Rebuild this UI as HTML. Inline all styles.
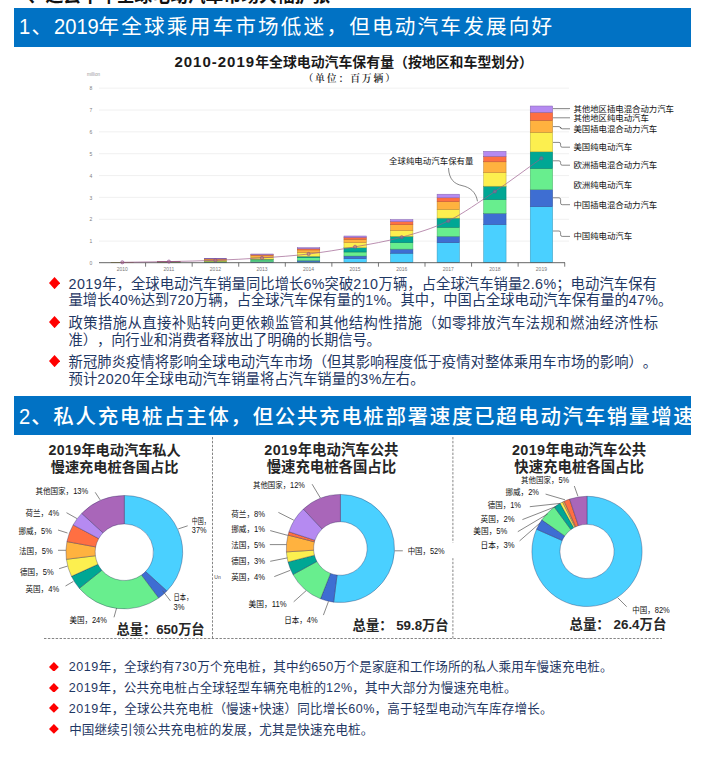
<!DOCTYPE html>
<html lang="zh-CN"><head><meta charset="utf-8"><title>全球电动汽车市场</title>
<style>
html,body{margin:0;padding:0;background:#fff;}
body{width:702px;height:758px;position:relative;overflow:hidden;font-family:"Liberation Sans","Noto Sans CJK SC",sans-serif;}
.abs{position:absolute;}
.hdr{position:absolute;left:14px;width:677px;background:#0172c4;color:#fff;white-space:nowrap;overflow:hidden;}
.hdr span.t{position:absolute;left:7px;white-space:nowrap;}
.ln{position:absolute;white-space:nowrap;color:#1f3864;text-spacing-trim:space-all;font-kerning:none;}
.b1{font-size:14.3px;line-height:17px;height:17px;}
.b2{font-size:12.55px;line-height:15px;height:15px;}
.dia{position:absolute;width:0;height:0;}
.ttl{position:absolute;white-space:nowrap;font-weight:700;color:#262626;text-align:center;}
.dg{display:inline-block;font-size:22.4px;letter-spacing:0;transform:scaleX(0.9);transform-origin:left center;line-height:1;}
</style></head><body>

<div class="abs" style="left:10px;top:-14.4px;font-size:17.8px;line-height:20px;font-weight:700;color:#111;white-space:nowrap;">一、过去十年全球电动汽车市场大幅扩张</div>
<div class="hdr" style="top:8px;height:38.6px;"><span class="t" style="left:5.4px;font-size:20.6px;letter-spacing:2.2px;line-height:38.6px;top:0.4px;"><span class="dg" style="margin-right:-0.4px">1</span>、<span class="dg" style="margin-right:-5.6px">2019</span>年全球乘用车市场低迷，但电动汽车发展向好</span></div>
<div class="hdr" style="top:396px;height:39.4px;"><span class="t" style="left:4.6px;font-size:20.5px;letter-spacing:1.64px;line-height:39.4px;top:1px;font-weight:500;"><span class="dg" style="margin-right:0.2px;font-weight:400">2</span>、私人充电桩占主体，但公共充电桩部署速度已超电动汽车销量增速</span></div>
<div class="ttl" style="left:174.4px;text-align:left;top:51.5px;font-size:13.9px;line-height:19px;color:#1a1a1a;"><span style="font-size:15px;letter-spacing:1px">2010-2019</span>年全球电动汽车保有量（按地区和车型划分）</div>
<div class="abs" style="left:250.2px;width:200px;top:71.9px;text-align:center;font-family:'Liberation Serif','Noto Serif CJK SC',serif;font-weight:600;font-size:9.8px;line-height:13px;letter-spacing:1.9px;color:#222;white-space:nowrap;">（单位：百万辆）</div>
<svg class="abs" style="left:0;top:0" width="702" height="758" viewBox="0 0 702 758">
<line x1="99" x2="569" y1="241.10" y2="241.10" stroke="#ececec" stroke-width="0.8"/>
<line x1="99" x2="569" y1="219.25" y2="219.25" stroke="#ececec" stroke-width="0.8"/>
<line x1="99" x2="569" y1="197.40" y2="197.40" stroke="#ececec" stroke-width="0.8"/>
<line x1="99" x2="569" y1="175.55" y2="175.55" stroke="#ececec" stroke-width="0.8"/>
<line x1="99" x2="569" y1="153.70" y2="153.70" stroke="#ececec" stroke-width="0.8"/>
<line x1="99" x2="569" y1="131.85" y2="131.85" stroke="#ececec" stroke-width="0.8"/>
<line x1="99" x2="569" y1="110.00" y2="110.00" stroke="#ececec" stroke-width="0.8"/>
<line x1="99" x2="569" y1="88.15" y2="88.15" stroke="#ececec" stroke-width="0.8"/>
<rect x="530.23" y="206.70" width="22.4" height="56.00" fill="#4ad0ff" stroke="#3595b7" stroke-width="0.5"/>
<rect x="530.23" y="189.70" width="22.4" height="17.00" fill="#3e6ed2" stroke="#2c4f97" stroke-width="0.5"/>
<rect x="530.23" y="168.50" width="22.4" height="21.20" fill="#68ee8e" stroke="#4aab66" stroke-width="0.5"/>
<rect x="530.23" y="151.80" width="22.4" height="16.70" fill="#00a794" stroke="#00786a" stroke-width="0.5"/>
<rect x="530.23" y="132.30" width="22.4" height="19.50" fill="#fcef4f" stroke="#b5ac38" stroke-width="0.5"/>
<rect x="530.23" y="120.30" width="22.4" height="12.00" fill="#ffb23f" stroke="#b7802d" stroke-width="0.5"/>
<rect x="530.23" y="112.40" width="22.4" height="7.90" fill="#ff6f42" stroke="#b74f2f" stroke-width="0.5"/>
<rect x="530.23" y="106.00" width="22.4" height="6.40" fill="#b58af1" stroke="#8263ad" stroke-width="0.5"/>
<rect x="483.66" y="224.60" width="22.4" height="38.10" fill="#4ad0ff" stroke="#3595b7" stroke-width="0.5"/>
<rect x="483.66" y="213.30" width="22.4" height="11.30" fill="#3e6ed2" stroke="#2c4f97" stroke-width="0.5"/>
<rect x="483.66" y="199.60" width="22.4" height="13.70" fill="#68ee8e" stroke="#4aab66" stroke-width="0.5"/>
<rect x="483.66" y="186.20" width="22.4" height="13.40" fill="#00a794" stroke="#00786a" stroke-width="0.5"/>
<rect x="483.66" y="172.70" width="22.4" height="13.50" fill="#fcef4f" stroke="#b5ac38" stroke-width="0.5"/>
<rect x="483.66" y="161.80" width="22.4" height="10.90" fill="#ffb23f" stroke="#b7802d" stroke-width="0.5"/>
<rect x="483.66" y="156.40" width="22.4" height="5.40" fill="#ff6f42" stroke="#b74f2f" stroke-width="0.5"/>
<rect x="483.66" y="151.30" width="22.4" height="5.10" fill="#b58af1" stroke="#8263ad" stroke-width="0.5"/>
<rect x="437.09" y="242.70" width="22.4" height="20.00" fill="#4ad0ff" stroke="#3595b7" stroke-width="0.5"/>
<rect x="437.09" y="236.30" width="22.4" height="6.40" fill="#3e6ed2" stroke="#2c4f97" stroke-width="0.5"/>
<rect x="437.09" y="227.30" width="22.4" height="9.00" fill="#68ee8e" stroke="#4aab66" stroke-width="0.5"/>
<rect x="437.09" y="218.10" width="22.4" height="9.20" fill="#00a794" stroke="#00786a" stroke-width="0.5"/>
<rect x="437.09" y="209.40" width="22.4" height="8.70" fill="#fcef4f" stroke="#b5ac38" stroke-width="0.5"/>
<rect x="437.09" y="201.70" width="22.4" height="7.70" fill="#ffb23f" stroke="#b7802d" stroke-width="0.5"/>
<rect x="437.09" y="197.80" width="22.4" height="3.90" fill="#ff6f42" stroke="#b74f2f" stroke-width="0.5"/>
<rect x="437.09" y="194.20" width="22.4" height="3.60" fill="#b58af1" stroke="#8263ad" stroke-width="0.5"/>
<rect x="390.52" y="253.20" width="22.4" height="9.50" fill="#4ad0ff" stroke="#3595b7" stroke-width="0.5"/>
<rect x="390.52" y="249.10" width="22.4" height="4.10" fill="#3e6ed2" stroke="#2c4f97" stroke-width="0.5"/>
<rect x="390.52" y="242.70" width="22.4" height="6.40" fill="#68ee8e" stroke="#4aab66" stroke-width="0.5"/>
<rect x="390.52" y="236.30" width="22.4" height="6.40" fill="#00a794" stroke="#00786a" stroke-width="0.5"/>
<rect x="390.52" y="230.50" width="22.4" height="5.80" fill="#fcef4f" stroke="#b5ac38" stroke-width="0.5"/>
<rect x="390.52" y="224.70" width="22.4" height="5.80" fill="#ffb23f" stroke="#b7802d" stroke-width="0.5"/>
<rect x="390.52" y="221.50" width="22.4" height="3.20" fill="#ff6f42" stroke="#b74f2f" stroke-width="0.5"/>
<rect x="390.52" y="219.60" width="22.4" height="1.90" fill="#b58af1" stroke="#8263ad" stroke-width="0.5"/>
<rect x="343.95" y="258.70" width="22.4" height="4.00" fill="#4ad0ff" stroke="#3595b7" stroke-width="0.5"/>
<rect x="343.95" y="256.00" width="22.4" height="2.70" fill="#3e6ed2" stroke="#2c4f97" stroke-width="0.5"/>
<rect x="343.95" y="252.00" width="22.4" height="4.00" fill="#68ee8e" stroke="#4aab66" stroke-width="0.5"/>
<rect x="343.95" y="247.70" width="22.4" height="4.30" fill="#00a794" stroke="#00786a" stroke-width="0.5"/>
<rect x="343.95" y="242.70" width="22.4" height="5.00" fill="#fcef4f" stroke="#b5ac38" stroke-width="0.5"/>
<rect x="343.95" y="239.20" width="22.4" height="3.50" fill="#ffb23f" stroke="#b7802d" stroke-width="0.5"/>
<rect x="343.95" y="237.30" width="22.4" height="1.90" fill="#ff6f42" stroke="#b74f2f" stroke-width="0.5"/>
<rect x="343.95" y="236.00" width="22.4" height="1.30" fill="#b58af1" stroke="#8263ad" stroke-width="0.5"/>
<rect x="297.38" y="261.50" width="22.4" height="1.20" fill="#4ad0ff" stroke="#3595b7" stroke-width="0.5"/>
<rect x="297.38" y="260.50" width="22.4" height="1.00" fill="#3e6ed2" stroke="#2c4f97" stroke-width="0.5"/>
<rect x="297.38" y="257.70" width="22.4" height="2.80" fill="#68ee8e" stroke="#4aab66" stroke-width="0.5"/>
<rect x="297.38" y="256.30" width="22.4" height="1.40" fill="#00a794" stroke="#00786a" stroke-width="0.5"/>
<rect x="297.38" y="252.70" width="22.4" height="3.60" fill="#fcef4f" stroke="#b5ac38" stroke-width="0.5"/>
<rect x="297.38" y="249.90" width="22.4" height="2.80" fill="#ffb23f" stroke="#b7802d" stroke-width="0.5"/>
<rect x="297.38" y="248.70" width="22.4" height="1.20" fill="#ff6f42" stroke="#b74f2f" stroke-width="0.5"/>
<rect x="297.38" y="247.70" width="22.4" height="1.00" fill="#b58af1" stroke="#8263ad" stroke-width="0.5"/>
<rect x="250.81" y="262.00" width="22.4" height="0.70" fill="#4ad0ff" stroke="#3595b7" stroke-width="0.5"/>
<rect x="250.81" y="261.80" width="22.4" height="0.20" fill="#3e6ed2" stroke="#2c4f97" stroke-width="0.5"/>
<rect x="250.81" y="260.00" width="22.4" height="1.80" fill="#68ee8e" stroke="#4aab66" stroke-width="0.5"/>
<rect x="250.81" y="259.20" width="22.4" height="0.80" fill="#00a794" stroke="#00786a" stroke-width="0.5"/>
<rect x="250.81" y="257.20" width="22.4" height="2.00" fill="#fcef4f" stroke="#b5ac38" stroke-width="0.5"/>
<rect x="250.81" y="255.20" width="22.4" height="2.00" fill="#ffb23f" stroke="#b7802d" stroke-width="0.5"/>
<rect x="250.81" y="254.60" width="22.4" height="0.60" fill="#ff6f42" stroke="#b74f2f" stroke-width="0.5"/>
<rect x="250.81" y="254.00" width="22.4" height="0.60" fill="#b58af1" stroke="#8263ad" stroke-width="0.5"/>
<rect x="204.24" y="262.50" width="22.4" height="0.20" fill="#4ad0ff" stroke="#3595b7" stroke-width="0.5"/>
<rect x="204.24" y="262.40" width="22.4" height="0.10" fill="#3e6ed2" stroke="#2c4f97" stroke-width="0.5"/>
<rect x="204.24" y="261.80" width="22.4" height="0.60" fill="#68ee8e" stroke="#4aab66" stroke-width="0.5"/>
<rect x="204.24" y="261.50" width="22.4" height="0.30" fill="#00a794" stroke="#00786a" stroke-width="0.5"/>
<rect x="204.24" y="260.30" width="22.4" height="1.20" fill="#fcef4f" stroke="#b5ac38" stroke-width="0.5"/>
<rect x="204.24" y="259.10" width="22.4" height="1.20" fill="#ffb23f" stroke="#b7802d" stroke-width="0.5"/>
<rect x="204.24" y="258.80" width="22.4" height="0.30" fill="#ff6f42" stroke="#b74f2f" stroke-width="0.5"/>
<rect x="204.24" y="258.60" width="22.4" height="0.20" fill="#b58af1" stroke="#8263ad" stroke-width="0.5"/>
<rect x="157.67" y="262.60" width="22.4" height="0.10" fill="#4ad0ff" stroke="#3595b7" stroke-width="0.5"/>
<rect x="157.67" y="262.30" width="22.4" height="0.30" fill="#68ee8e" stroke="#4aab66" stroke-width="0.5"/>
<rect x="157.67" y="262.20" width="22.4" height="0.10" fill="#00a794" stroke="#00786a" stroke-width="0.5"/>
<rect x="157.67" y="261.80" width="22.4" height="0.40" fill="#fcef4f" stroke="#b5ac38" stroke-width="0.5"/>
<rect x="157.67" y="261.60" width="22.4" height="0.20" fill="#ffb23f" stroke="#b7802d" stroke-width="0.5"/>
<rect x="157.67" y="261.50" width="22.4" height="0.10" fill="#ff6f42" stroke="#b74f2f" stroke-width="0.5"/>
<rect x="157.67" y="261.40" width="22.4" height="0.10" fill="#b58af1" stroke="#8263ad" stroke-width="0.5"/>
<rect x="111.10" y="262.60" width="22.4" height="0.10" fill="#68ee8e" stroke="#4aab66" stroke-width="0.5"/>
<rect x="111.10" y="262.50" width="22.4" height="0.10" fill="#fcef4f" stroke="#b5ac38" stroke-width="0.5"/>
<rect x="111.10" y="262.40" width="22.4" height="0.10" fill="#ffb23f" stroke="#b7802d" stroke-width="0.5"/>
<line x1="99" x2="565" y1="262.7" y2="262.7" stroke="#555" stroke-width="0.9"/>
<line x1="145.59" x2="145.59" y1="262.7" y2="266.7" stroke="#555" stroke-width="0.8"/>
<line x1="192.16" x2="192.16" y1="262.7" y2="266.7" stroke="#555" stroke-width="0.8"/>
<line x1="238.72" x2="238.72" y1="262.7" y2="266.7" stroke="#555" stroke-width="0.8"/>
<line x1="285.30" x2="285.30" y1="262.7" y2="266.7" stroke="#555" stroke-width="0.8"/>
<line x1="331.87" x2="331.87" y1="262.7" y2="266.7" stroke="#555" stroke-width="0.8"/>
<line x1="378.44" x2="378.44" y1="262.7" y2="266.7" stroke="#555" stroke-width="0.8"/>
<line x1="425.00" x2="425.00" y1="262.7" y2="266.7" stroke="#555" stroke-width="0.8"/>
<line x1="471.57" x2="471.57" y1="262.7" y2="266.7" stroke="#555" stroke-width="0.8"/>
<line x1="518.14" x2="518.14" y1="262.7" y2="266.7" stroke="#555" stroke-width="0.8"/>
<line x1="564.72" x2="564.72" y1="262.7" y2="266.7" stroke="#555" stroke-width="0.8"/>
<path d="M122.3 262.30 C137.8 262.07 153.3 261.93 168.9 261.60 C184.4 261.27 199.9 260.92 215.4 260.30 C231.0 259.68 246.5 258.95 262.0 257.90 C277.5 256.85 293.1 255.85 308.6 254.00 C324.1 252.15 339.6 249.60 355.1 246.80 C370.7 244.00 386.2 241.52 401.7 237.20 C417.2 232.88 432.8 228.52 448.3 220.90 C463.8 213.28 479.3 201.93 494.9 191.50 C510.4 181.07 525.9 169.37 541.4 158.30" fill="none" stroke="#9a5a8c" stroke-opacity="0.85" stroke-width="0.8"/>
<circle cx="122.3" cy="262.3" r="1.6" fill="#b07088" fill-opacity="0.45" stroke="#8a4590" stroke-width="0.6"/>
<circle cx="168.9" cy="261.6" r="1.6" fill="#b07088" fill-opacity="0.45" stroke="#8a4590" stroke-width="0.6"/>
<circle cx="215.4" cy="260.3" r="1.6" fill="#b07088" fill-opacity="0.45" stroke="#8a4590" stroke-width="0.6"/>
<circle cx="262.0" cy="257.9" r="1.6" fill="#b07088" fill-opacity="0.45" stroke="#8a4590" stroke-width="0.6"/>
<circle cx="308.6" cy="254.0" r="1.6" fill="#b07088" fill-opacity="0.45" stroke="#8a4590" stroke-width="0.6"/>
<circle cx="355.1" cy="246.8" r="1.6" fill="#b07088" fill-opacity="0.45" stroke="#8a4590" stroke-width="0.6"/>
<circle cx="401.7" cy="237.2" r="1.6" fill="#b07088" fill-opacity="0.45" stroke="#8a4590" stroke-width="0.6"/>
<circle cx="448.3" cy="220.9" r="1.6" fill="#b07088" fill-opacity="0.45" stroke="#8a4590" stroke-width="0.6"/>
<circle cx="494.9" cy="191.5" r="1.6" fill="#b07088" fill-opacity="0.45" stroke="#8a4590" stroke-width="0.6"/>
<circle cx="541.4" cy="158.3" r="1.6" fill="#b07088" fill-opacity="0.45" stroke="#8a4590" stroke-width="0.6"/>
<text x="91" y="265.1" font-size="5" fill="#808080" text-anchor="middle" font-family='"Liberation Sans","Noto Sans CJK SC",sans-serif'>0</text>
<text x="91" y="243.3" font-size="5" fill="#808080" text-anchor="middle" font-family='"Liberation Sans","Noto Sans CJK SC",sans-serif'>1</text>
<text x="91" y="221.4" font-size="5" fill="#808080" text-anchor="middle" font-family='"Liberation Sans","Noto Sans CJK SC",sans-serif'>2</text>
<text x="91" y="199.6" font-size="5" fill="#808080" text-anchor="middle" font-family='"Liberation Sans","Noto Sans CJK SC",sans-serif'>3</text>
<text x="91" y="177.7" font-size="5" fill="#808080" text-anchor="middle" font-family='"Liberation Sans","Noto Sans CJK SC",sans-serif'>4</text>
<text x="91" y="155.9" font-size="5" fill="#808080" text-anchor="middle" font-family='"Liberation Sans","Noto Sans CJK SC",sans-serif'>5</text>
<text x="91" y="134.0" font-size="5" fill="#808080" text-anchor="middle" font-family='"Liberation Sans","Noto Sans CJK SC",sans-serif'>6</text>
<text x="91" y="112.2" font-size="5" fill="#808080" text-anchor="middle" font-family='"Liberation Sans","Noto Sans CJK SC",sans-serif'>7</text>
<text x="91" y="90.3" font-size="5" fill="#808080" text-anchor="middle" font-family='"Liberation Sans","Noto Sans CJK SC",sans-serif'>8</text>
<text x="93.5" y="76" font-size="4.6" fill="#999" text-anchor="middle" font-family='"Liberation Sans","Noto Sans CJK SC",sans-serif'>million</text>
<text x="122.3" y="270.8" font-size="5" fill="#777" text-anchor="middle" font-family='"Liberation Sans","Noto Sans CJK SC",sans-serif'>2010</text>
<text x="168.9" y="270.8" font-size="5" fill="#777" text-anchor="middle" font-family='"Liberation Sans","Noto Sans CJK SC",sans-serif'>2011</text>
<text x="215.4" y="270.8" font-size="5" fill="#777" text-anchor="middle" font-family='"Liberation Sans","Noto Sans CJK SC",sans-serif'>2012</text>
<text x="262.0" y="270.8" font-size="5" fill="#777" text-anchor="middle" font-family='"Liberation Sans","Noto Sans CJK SC",sans-serif'>2013</text>
<text x="308.6" y="270.8" font-size="5" fill="#777" text-anchor="middle" font-family='"Liberation Sans","Noto Sans CJK SC",sans-serif'>2014</text>
<text x="355.1" y="270.8" font-size="5" fill="#777" text-anchor="middle" font-family='"Liberation Sans","Noto Sans CJK SC",sans-serif'>2015</text>
<text x="401.7" y="270.8" font-size="5" fill="#777" text-anchor="middle" font-family='"Liberation Sans","Noto Sans CJK SC",sans-serif'>2016</text>
<text x="448.3" y="270.8" font-size="5" fill="#777" text-anchor="middle" font-family='"Liberation Sans","Noto Sans CJK SC",sans-serif'>2017</text>
<text x="494.9" y="270.8" font-size="5" fill="#777" text-anchor="middle" font-family='"Liberation Sans","Noto Sans CJK SC",sans-serif'>2018</text>
<text x="541.4" y="270.8" font-size="5" fill="#777" text-anchor="middle" font-family='"Liberation Sans","Noto Sans CJK SC",sans-serif'>2019</text>
<path d="M553 108.6 H570" fill="none" stroke="#555" stroke-width="0.7"/>
<text x="573.5" y="111.6" font-size="8.4" fill="#111" font-family='"Liberation Sans","Noto Sans CJK SC",sans-serif'>其他地区插电混合动力汽车</text>
<path d="M553 117.8 H570" fill="none" stroke="#555" stroke-width="0.7"/>
<text x="573.5" y="120.8" font-size="8.4" fill="#111" font-family='"Liberation Sans","Noto Sans CJK SC",sans-serif'>其他地区纯电动汽车</text>
<path d="M553 126.6 H559 Q560.6 126.6 560.6 128.2 V127.20000000000002 Q560.6 128.8 562.2 128.8 H570" fill="none" stroke="#555" stroke-width="0.7"/>
<text x="573.5" y="131.8" font-size="8.4" fill="#111" font-family='"Liberation Sans","Noto Sans CJK SC",sans-serif'>美国插电混合动力汽车</text>
<path d="M553 142.4 H559 Q560.6 142.4 560.6 144.0 V145.6 Q560.6 147.2 562.2 147.2 H570" fill="none" stroke="#555" stroke-width="0.7"/>
<text x="573.5" y="150.2" font-size="8.4" fill="#111" font-family='"Liberation Sans","Noto Sans CJK SC",sans-serif'>美国纯电动汽车</text>
<path d="M553 160.8 H559 Q560.6 160.8 560.6 162.4 V163.6 Q560.6 165.2 562.2 165.2 H570" fill="none" stroke="#555" stroke-width="0.7"/>
<text x="573.5" y="168.2" font-size="8.4" fill="#111" font-family='"Liberation Sans","Noto Sans CJK SC",sans-serif'>欧洲插电混合动力汽车</text>
<text x="573.5" y="188.1" font-size="8.4" fill="#111" font-family='"Liberation Sans","Noto Sans CJK SC",sans-serif'>欧洲纯电动汽车</text>
<path d="M553 197.8 H559 Q560.6 197.8 560.6 199.4 V203.1 Q560.6 204.7 562.2 204.7 H570" fill="none" stroke="#555" stroke-width="0.7"/>
<text x="573.5" y="207.7" font-size="8.4" fill="#111" font-family='"Liberation Sans","Noto Sans CJK SC",sans-serif'>中国插电混合动力汽车</text>
<path d="M553 231.0 H559 Q560.6 231.0 560.6 232.6 V234.8 Q560.6 236.4 562.2 236.4 H570" fill="none" stroke="#555" stroke-width="0.7"/>
<text x="573.5" y="239.4" font-size="8.4" fill="#111" font-family='"Liberation Sans","Noto Sans CJK SC",sans-serif'>中国纯电动汽车</text>
<text x="389" y="164.1" font-size="8.4" fill="#111" font-family='"Liberation Sans","Noto Sans CJK SC",sans-serif' textLength="84.4" lengthAdjust="spacing">全球纯电动汽车保有量</text>
<path d="M448.5 168 C449 179.5 454.5 184 462 185.6 C470 187.3 476 192 477.5 201.3" fill="none" stroke="#555" stroke-width="0.7"/>
<g transform="translate(124.3 552.2) scale(1.03 1)">
<path d="M0.00 -56.70 A56.7 56.7 0 0 1 41.33 38.81 L20.63 19.37 A28.3 28.3 0 0 0 0.00 -28.30 Z" fill="#4ad0ff" stroke="rgba(30,30,80,0.6)" stroke-width="0.55"/>
<path d="M41.33 38.81 A56.7 56.7 0 0 1 33.33 45.87 L16.63 22.90 A28.3 28.3 0 0 0 20.63 19.37 Z" fill="#3e6ed2" stroke="rgba(30,30,80,0.6)" stroke-width="0.55"/>
<path d="M33.33 45.87 A56.7 56.7 0 0 1 -43.69 36.14 L-21.81 18.04 A28.3 28.3 0 0 0 16.63 22.90 Z" fill="#68ee8e" stroke="rgba(30,30,80,0.6)" stroke-width="0.55"/>
<path d="M-43.69 36.14 A56.7 56.7 0 0 1 -51.30 24.14 L-25.61 12.05 A28.3 28.3 0 0 0 -21.81 18.04 Z" fill="#00a794" stroke="rgba(30,30,80,0.6)" stroke-width="0.55"/>
<path d="M-51.30 24.14 A56.7 56.7 0 0 1 -56.25 7.11 L-28.08 3.55 A28.3 28.3 0 0 0 -25.61 12.05 Z" fill="#fcef4f" stroke="rgba(30,30,80,0.6)" stroke-width="0.55"/>
<path d="M-56.25 7.11 A56.7 56.7 0 0 1 -55.70 -10.62 L-27.80 -5.30 A28.3 28.3 0 0 0 -28.08 3.55 Z" fill="#ffb23f" stroke="rgba(30,30,80,0.6)" stroke-width="0.55"/>
<path d="M-55.70 -10.62 A56.7 56.7 0 0 1 -49.69 -27.32 L-24.80 -13.63 A28.3 28.3 0 0 0 -27.80 -5.30 Z" fill="#ff6f42" stroke="rgba(30,30,80,0.6)" stroke-width="0.55"/>
<path d="M-49.69 -27.32 A56.7 56.7 0 0 1 -41.33 -38.81 L-20.63 -19.37 A28.3 28.3 0 0 0 -24.80 -13.63 Z" fill="#b58af1" stroke="rgba(30,30,80,0.6)" stroke-width="0.55"/>
<path d="M-41.33 -38.81 A56.7 56.7 0 0 1 0.00 -56.70 L0.00 -28.30 A28.3 28.3 0 0 0 -20.63 -19.37 Z" fill="#a966b9" stroke="rgba(30,30,80,0.6)" stroke-width="0.55"/>
</g>
<g transform="translate(340.4 548.5) scale(1.0 1)">
<path d="M0.00 -54.10 A54.1 54.1 0 1 1 -6.78 53.67 L-3.36 26.59 A26.8 26.8 0 1 0 0.00 -26.80 Z" fill="#4ad0ff" stroke="rgba(30,30,80,0.6)" stroke-width="0.55"/>
<path d="M-6.78 53.67 A54.1 54.1 0 0 1 -19.92 50.30 L-9.87 24.92 A26.8 26.8 0 0 0 -3.36 26.59 Z" fill="#3e6ed2" stroke="rgba(30,30,80,0.6)" stroke-width="0.55"/>
<path d="M-19.92 50.30 A54.1 54.1 0 0 1 -47.41 26.06 L-23.49 12.91 A26.8 26.8 0 0 0 -9.87 24.92 Z" fill="#68ee8e" stroke="rgba(30,30,80,0.6)" stroke-width="0.55"/>
<path d="M-47.41 26.06 A54.1 54.1 0 0 1 -52.40 13.45 L-25.96 6.66 A26.8 26.8 0 0 0 -23.49 12.91 Z" fill="#00a794" stroke="rgba(30,30,80,0.6)" stroke-width="0.55"/>
<path d="M-52.40 13.45 A54.1 54.1 0 0 1 -53.99 3.40 L-26.75 1.68 A26.8 26.8 0 0 0 -25.96 6.66 Z" fill="#fcef4f" stroke="rgba(30,30,80,0.6)" stroke-width="0.55"/>
<path d="M-53.99 3.40 A54.1 54.1 0 0 1 -52.40 -13.45 L-25.96 -6.66 A26.8 26.8 0 0 0 -26.75 1.68 Z" fill="#ffb23f" stroke="rgba(30,30,80,0.6)" stroke-width="0.55"/>
<path d="M-52.40 -13.45 A54.1 54.1 0 0 1 -51.45 -16.72 L-25.49 -8.28 A26.8 26.8 0 0 0 -25.96 -6.66 Z" fill="#ff6f42" stroke="rgba(30,30,80,0.6)" stroke-width="0.55"/>
<path d="M-51.45 -16.72 A54.1 54.1 0 0 1 -37.03 -39.44 L-18.35 -19.54 A26.8 26.8 0 0 0 -25.49 -8.28 Z" fill="#b58af1" stroke="rgba(30,30,80,0.6)" stroke-width="0.55"/>
<path d="M-37.03 -39.44 A54.1 54.1 0 0 1 -0.00 -54.10 L-0.00 -26.80 A26.8 26.8 0 0 0 -18.35 -19.54 Z" fill="#a966b9" stroke="rgba(30,30,80,0.6)" stroke-width="0.55"/>
</g>
<g transform="translate(587 551.4) scale(1.0 1)">
<path d="M0.00 -55.10 A55.1 55.1 0 1 1 -50.43 -22.20 L-24.80 -10.92 A27.1 27.1 0 1 0 0.00 -27.10 Z" fill="#4ad0ff" stroke="rgba(30,30,80,0.6)" stroke-width="0.55"/>
<path d="M-50.43 -22.20 A55.1 55.1 0 0 1 -45.18 -31.54 L-22.22 -15.51 A27.1 27.1 0 0 0 -24.80 -10.92 Z" fill="#3e6ed2" stroke="rgba(30,30,80,0.6)" stroke-width="0.55"/>
<path d="M-45.18 -31.54 A55.1 55.1 0 0 1 -32.67 -44.37 L-16.07 -21.82 A27.1 27.1 0 0 0 -22.22 -15.51 Z" fill="#68ee8e" stroke="rgba(30,30,80,0.6)" stroke-width="0.55"/>
<path d="M-32.67 -44.37 A55.1 55.1 0 0 1 -26.85 -48.12 L-13.20 -23.67 A27.1 27.1 0 0 0 -16.07 -21.82 Z" fill="#00a794" stroke="rgba(30,30,80,0.6)" stroke-width="0.55"/>
<path d="M-26.85 -48.12 A55.1 55.1 0 0 1 -24.40 -49.40 L-12.00 -24.30 A27.1 27.1 0 0 0 -13.20 -23.67 Z" fill="#fcef4f" stroke="rgba(30,30,80,0.6)" stroke-width="0.55"/>
<path d="M-24.40 -49.40 A55.1 55.1 0 0 1 -22.83 -50.15 L-11.23 -24.66 A27.1 27.1 0 0 0 -12.00 -24.30 Z" fill="#ffb23f" stroke="rgba(30,30,80,0.6)" stroke-width="0.55"/>
<path d="M-22.83 -50.15 A55.1 55.1 0 0 1 -17.36 -52.30 L-8.54 -25.72 A27.1 27.1 0 0 0 -11.23 -24.66 Z" fill="#ff6f42" stroke="rgba(30,30,80,0.6)" stroke-width="0.55"/>
<path d="M-17.36 -52.30 A55.1 55.1 0 0 1 -0.00 -55.10 L-0.00 -27.10 A27.1 27.1 0 0 0 -8.54 -25.72 Z" fill="#a966b9" stroke="rgba(30,30,80,0.6)" stroke-width="0.55"/>
</g>
<line x1="212.5" x2="212.5" y1="437" y2="639.5" stroke="#858585" stroke-width="1" stroke-dasharray="2.4 1.5"/>
<line x1="452.9" x2="452.9" y1="437" y2="639.5" stroke="#858585" stroke-width="1" stroke-dasharray="2.4 1.5"/>
<rect x="450.5" y="542.6" width="5" height="15.6" fill="#fff"/>
<line x1="44" x2="662" y1="638.5" y2="638.5" stroke="#858585" stroke-width="1" stroke-dasharray="2.4 1.5"/>
<text x="35.4" y="493.9" font-size="8.4" fill="#111" textLength="52.9" lengthAdjust="spacingAndGlyphs" font-family='"Liberation Sans","Noto Sans CJK SC",sans-serif'>其他国家，13%</text>
<line x1="95.2" y1="492.3" x2="100.1" y2="499.8" stroke="#555" stroke-width="0.7"/>
<text x="25.5" y="515.7" font-size="8.4" fill="#111" textLength="33.6" lengthAdjust="spacingAndGlyphs" font-family='"Liberation Sans","Noto Sans CJK SC",sans-serif'>荷兰，4%</text>
<line x1="66.5" y1="512.7" x2="77" y2="518.6" stroke="#555" stroke-width="0.7"/>
<text x="18.4" y="533.5" font-size="8.4" fill="#111" textLength="33.6" lengthAdjust="spacingAndGlyphs" font-family='"Liberation Sans","Noto Sans CJK SC",sans-serif'>挪威，5%</text>
<line x1="58" y1="530" x2="67.5" y2="533" stroke="#555" stroke-width="0.7"/>
<text x="19" y="553.9" font-size="8.4" fill="#111" textLength="33.6" lengthAdjust="spacingAndGlyphs" font-family='"Liberation Sans","Noto Sans CJK SC",sans-serif'>法国，5%</text>
<line x1="58" y1="550.3" x2="65.9" y2="550.3" stroke="#555" stroke-width="0.7"/>
<text x="20" y="574.7" font-size="8.4" fill="#111" textLength="33.6" lengthAdjust="spacingAndGlyphs" font-family='"Liberation Sans","Noto Sans CJK SC",sans-serif'>德国，5%</text>
<line x1="59.1" y1="568.7" x2="67.5" y2="566.1" stroke="#555" stroke-width="0.7"/>
<text x="25.5" y="591.9" font-size="8.4" fill="#111" textLength="33.6" lengthAdjust="spacingAndGlyphs" font-family='"Liberation Sans","Noto Sans CJK SC",sans-serif'>英国，4%</text>
<line x1="65.5" y1="586" x2="73.4" y2="581.4" stroke="#555" stroke-width="0.7"/>
<text x="69.4" y="623.2" font-size="8.4" fill="#111" textLength="37.6" lengthAdjust="spacingAndGlyphs" font-family='"Liberation Sans","Noto Sans CJK SC",sans-serif'>美国，24%</text>
<line x1="114" y1="617.3" x2="116.6" y2="608" stroke="#555" stroke-width="0.7"/>
<text x="191.8" y="524.2" font-size="8.4" fill="#111" textLength="17.9" lengthAdjust="spacingAndGlyphs" font-family='"Liberation Sans","Noto Sans CJK SC",sans-serif'>中国，</text>
<text x="191.8" y="532.6" font-size="8.4" fill="#111" textLength="14.7" lengthAdjust="spacingAndGlyphs" font-family='"Liberation Sans","Noto Sans CJK SC",sans-serif'>37%</text>
<line x1="178.3" y1="528.9" x2="187.7" y2="525.8" stroke="#555" stroke-width="0.7"/>
<text x="173.6" y="600.4" font-size="8.4" fill="#111" textLength="18.8" lengthAdjust="spacingAndGlyphs" font-family='"Liberation Sans","Noto Sans CJK SC",sans-serif'>日本，</text>
<text x="173.6" y="609.6" font-size="8.4" fill="#111" textLength="11.0" lengthAdjust="spacingAndGlyphs" font-family='"Liberation Sans","Noto Sans CJK SC",sans-serif'>3%</text>
<line x1="162.6" y1="590.7" x2="170.5" y2="601" stroke="#555" stroke-width="0.7"/>
<text x="253" y="487.5" font-size="8.4" fill="#111" textLength="51.9" lengthAdjust="spacingAndGlyphs" font-family='"Liberation Sans","Noto Sans CJK SC",sans-serif'>其他国家，12%</text>
<line x1="312.1" y1="484.2" x2="320.4" y2="498.0" stroke="#555" stroke-width="0.7"/>
<text x="231.2" y="516.6" font-size="8.4" fill="#111" textLength="33.8" lengthAdjust="spacingAndGlyphs" font-family='"Liberation Sans","Noto Sans CJK SC",sans-serif'>荷兰，8%</text>
<line x1="278.4" y1="512.4" x2="293.8" y2="520.2" stroke="#555" stroke-width="0.7"/>
<text x="231.2" y="532.2" font-size="8.4" fill="#111" textLength="33.8" lengthAdjust="spacingAndGlyphs" font-family='"Liberation Sans","Noto Sans CJK SC",sans-serif'>挪威，1%</text>
<line x1="270.2" y1="530.6" x2="287.8" y2="535.4" stroke="#555" stroke-width="0.7"/>
<text x="231.2" y="548.2" font-size="8.4" fill="#111" textLength="33.8" lengthAdjust="spacingAndGlyphs" font-family='"Liberation Sans","Noto Sans CJK SC",sans-serif'>法国，5%</text>
<line x1="269.8" y1="544.6" x2="286.5" y2="544.6" stroke="#555" stroke-width="0.7"/>
<text x="231.2" y="563.8" font-size="8.4" fill="#111" textLength="33.8" lengthAdjust="spacingAndGlyphs" font-family='"Liberation Sans","Noto Sans CJK SC",sans-serif'>德国，3%</text>
<line x1="270.2" y1="561.3" x2="287.4" y2="557.9" stroke="#555" stroke-width="0.7"/>
<text x="231.2" y="580.2" font-size="8.4" fill="#111" textLength="33.8" lengthAdjust="spacingAndGlyphs" font-family='"Liberation Sans","Noto Sans CJK SC",sans-serif'>英国，4%</text>
<line x1="274.3" y1="576.6" x2="290.3" y2="570.3" stroke="#555" stroke-width="0.7"/>
<text x="248.6" y="607.4" font-size="8.4" fill="#111" textLength="38.1" lengthAdjust="spacingAndGlyphs" font-family='"Liberation Sans","Noto Sans CJK SC",sans-serif'>美国，11%</text>
<line x1="293.7" y1="601.8" x2="306.2" y2="590.6" stroke="#555" stroke-width="0.7"/>
<text x="284.2" y="622.7" font-size="8.4" fill="#111" textLength="33.4" lengthAdjust="spacingAndGlyphs" font-family='"Liberation Sans","Noto Sans CJK SC",sans-serif'>日本，4%</text>
<line x1="323.4" y1="615.1" x2="328.5" y2="601.4" stroke="#555" stroke-width="0.7"/>
<text x="407.7" y="553.6" font-size="8.4" fill="#111" textLength="37.0" lengthAdjust="spacingAndGlyphs" font-family='"Liberation Sans","Noto Sans CJK SC",sans-serif'>中国，52%</text>
<line x1="394.7" y1="550.8" x2="402.8" y2="550.8" stroke="#555" stroke-width="0.7"/>
<text x="214.3" y="578.9" font-size="5" fill="#444" font-family='"Liberation Sans","Noto Sans CJK SC",sans-serif'>Un</text>
<text x="521" y="483.0" font-size="8.4" fill="#111" textLength="48.2" lengthAdjust="spacingAndGlyphs" font-family='"Liberation Sans","Noto Sans CJK SC",sans-serif'>其他国家，5%</text>
<line x1="574.3" y1="486.0" x2="577.9" y2="496.2" stroke="#555" stroke-width="0.7"/>
<text x="505.6" y="495.0" font-size="8.4" fill="#111" textLength="33.4" lengthAdjust="spacingAndGlyphs" font-family='"Liberation Sans","Noto Sans CJK SC",sans-serif'>挪威，2%</text>
<line x1="545.6" y1="494.1" x2="565.0" y2="499.8" stroke="#555" stroke-width="0.7"/>
<text x="487.7" y="508.2" font-size="8.4" fill="#111" textLength="33.3" lengthAdjust="spacingAndGlyphs" font-family='"Liberation Sans","Noto Sans CJK SC",sans-serif'>德国，1%</text>
<line x1="529.8" y1="506.7" x2="560.2" y2="503.4" stroke="#555" stroke-width="0.7"/>
<text x="480.5" y="521.8" font-size="8.4" fill="#111" textLength="34.1" lengthAdjust="spacingAndGlyphs" font-family='"Liberation Sans","Noto Sans CJK SC",sans-serif'>英国，2%</text>
<line x1="522.4" y1="519.6" x2="556.2" y2="506.4" stroke="#555" stroke-width="0.7"/>
<text x="473.3" y="534.4" font-size="8.4" fill="#111" textLength="34.1" lengthAdjust="spacingAndGlyphs" font-family='"Liberation Sans","Noto Sans CJK SC",sans-serif'>美国，5%</text>
<line x1="517.8" y1="531.7" x2="547.6" y2="514.0" stroke="#555" stroke-width="0.7"/>
<text x="480.5" y="547.7" font-size="8.4" fill="#111" textLength="34.1" lengthAdjust="spacingAndGlyphs" font-family='"Liberation Sans","Noto Sans CJK SC",sans-serif'>日本，3%</text>
<line x1="519.6" y1="540.9" x2="540.0" y2="523.0" stroke="#555" stroke-width="0.7"/>
<text x="632.3" y="613.4" font-size="8.4" fill="#111" textLength="37.4" lengthAdjust="spacingAndGlyphs" font-family='"Liberation Sans","Noto Sans CJK SC",sans-serif'>中国，82%</text>
<line x1="617.7" y1="597.7" x2="626.7" y2="606.7" stroke="#555" stroke-width="0.7"/>
</svg>
<div class="ln b1" id="a1" style="left:68.60px;top:275.5px;letter-spacing:0.080px"><span style="letter-spacing:0.430px">2019</span>年，全球电动汽车销量同比增长<span style="letter-spacing:0.430px">6</span>%突破<span style="letter-spacing:0.430px">210</span>万辆，占全球汽车销量<span style="letter-spacing:0.430px">2.6</span>%；电动汽车保有</div>
<svg class="abs" style="left:48.9px;top:276.5px" width="11.1" height="12.2" viewBox="0 0 11.1 12.2"><path d="M5.55 0 L11.1 6.1 L5.55 12.2 L0 6.1 Z" fill="#ff0000"/></svg>
<div class="ln b1" id="a2" style="left:68.60px;top:291.9px;letter-spacing:-0.029px">量增长<span style="letter-spacing:0.321px">40</span>%达到<span style="letter-spacing:0.321px">720</span>万辆，占全球汽车保有量的<span style="letter-spacing:0.321px">1</span>%。其中，中国占全球电动汽车保有量的<span style="letter-spacing:0.321px">47</span>%。</div>
<div class="ln b1" id="a3" style="left:68.60px;top:314.5px;letter-spacing:0.454px">政策措施从直接补贴转向更依赖监管和其他结构性措施（如零排放汽车法规和燃油经济性标</div>
<svg class="abs" style="left:48.9px;top:315.5px" width="11.1" height="12.2" viewBox="0 0 11.1 12.2"><path d="M5.55 0 L11.1 6.1 L5.55 12.2 L0 6.1 Z" fill="#ff0000"/></svg>
<div class="ln b1" id="a4" style="left:68.60px;top:331.6px;letter-spacing:-0.105px">准），向行业和消费者释放出了明确的长期信号。</div>
<div class="ln b1" id="a5" style="left:68.60px;top:354.1px;letter-spacing:0.060px">新冠肺炎疫情将影响全球电动汽车市场（但其影响程度低于疫情对整体乘用车市场的影响）。</div>
<svg class="abs" style="left:48.9px;top:355.1px" width="11.1" height="12.2" viewBox="0 0 11.1 12.2"><path d="M5.55 0 L11.1 6.1 L5.55 12.2 L0 6.1 Z" fill="#ff0000"/></svg>
<div class="ln b1" id="a6" style="left:68.60px;top:371.0px;letter-spacing:0.054px">预计<span style="letter-spacing:0.404px">2020</span>年全球电动汽车销量将占汽车销量的<span style="letter-spacing:0.404px">3</span>%左右。</div>
<div class="ln b2" id="c1" style="left:68.70px;top:659.9px;letter-spacing:0.126px"><span style="letter-spacing:0.526px">2019</span>年，全球约有<span style="letter-spacing:0.526px">730</span>万个充电桩，其中约<span style="letter-spacing:0.526px">650</span>万个是家庭和工作场所的私人乘用车慢速充电桩。</div>
<svg class="abs" style="left:48.9px;top:661.6px" width="9.8" height="9.8" viewBox="0 0 9.8 9.8"><path d="M4.9 0 L9.8 4.9 L4.9 9.8 L0 4.9 Z" fill="#ff0000"/></svg>
<div class="ln b2" id="c2" style="left:68.70px;top:681.0px;letter-spacing:0.092px"><span style="letter-spacing:0.492px">2019</span>年，公共充电桩占全球轻型车辆充电桩的<span style="letter-spacing:0.492px">12</span>%，其中大部分为慢速充电桩。</div>
<svg class="abs" style="left:48.9px;top:682.6px" width="9.8" height="9.8" viewBox="0 0 9.8 9.8"><path d="M4.9 0 L9.8 4.9 L4.9 9.8 L0 4.9 Z" fill="#ff0000"/></svg>
<div class="ln b2" id="c3" style="left:68.70px;top:701.5px;letter-spacing:0.175px"><span style="letter-spacing:0.575px">2019</span>年，全球公共充电桩（慢速+快速）同比增长<span style="letter-spacing:0.575px">60</span>%，高于轻型电动汽车库存增长。</div>
<svg class="abs" style="left:48.9px;top:703.1px" width="9.8" height="9.8" viewBox="0 0 9.8 9.8"><path d="M4.9 0 L9.8 4.9 L4.9 9.8 L0 4.9 Z" fill="#ff0000"/></svg>
<div class="ln b2" id="c4" style="left:69.20px;top:722.7px;letter-spacing:0.130px">中国继续引领公共充电桩的发展，尤其是快速充电桩。</div>
<svg class="abs" style="left:48.9px;top:723.8px" width="9.8" height="9.8" viewBox="0 0 9.8 9.8"><path d="M4.9 0 L9.8 4.9 L4.9 9.8 L0 4.9 Z" fill="#ff0000"/></svg>
<div class="ttl" style="left:14.599999999999994px;width:200px;top:441.6px;font-size:14.2px;line-height:17.1px;"><span style="letter-spacing:0.35px">2019</span>年电动汽车私人<br>慢速充电桩各国占比</div>
<div class="ttl" style="left:231.39999999999998px;width:200px;top:441.6px;font-size:14.4px;line-height:17.1px;"><span style="letter-spacing:0.35px">2019</span>年电动汽车公共<br>慢速充电桩各国占比</div>
<div class="ttl" style="left:479.1px;width:200px;top:441.6px;font-size:14.4px;line-height:17.1px;"><span style="letter-spacing:0.35px">2019</span>年电动汽车公共<br>快速充电桩各国占比</div>
<div class="ttl" id="t1" style="left:116.6px;top:620.6px;font-size:13.2px;line-height:18px;">总量：650万台</div>
<div class="ttl" id="t2" style="left:352.6px;top:616.6px;font-size:13.3px;line-height:18px;">总量：&nbsp;59.8万台</div>
<div class="ttl" id="t3" style="left:569.6px;top:615.8px;font-size:13.4px;line-height:18px;">总量：&nbsp;26.4万台</div>
</body></html>
